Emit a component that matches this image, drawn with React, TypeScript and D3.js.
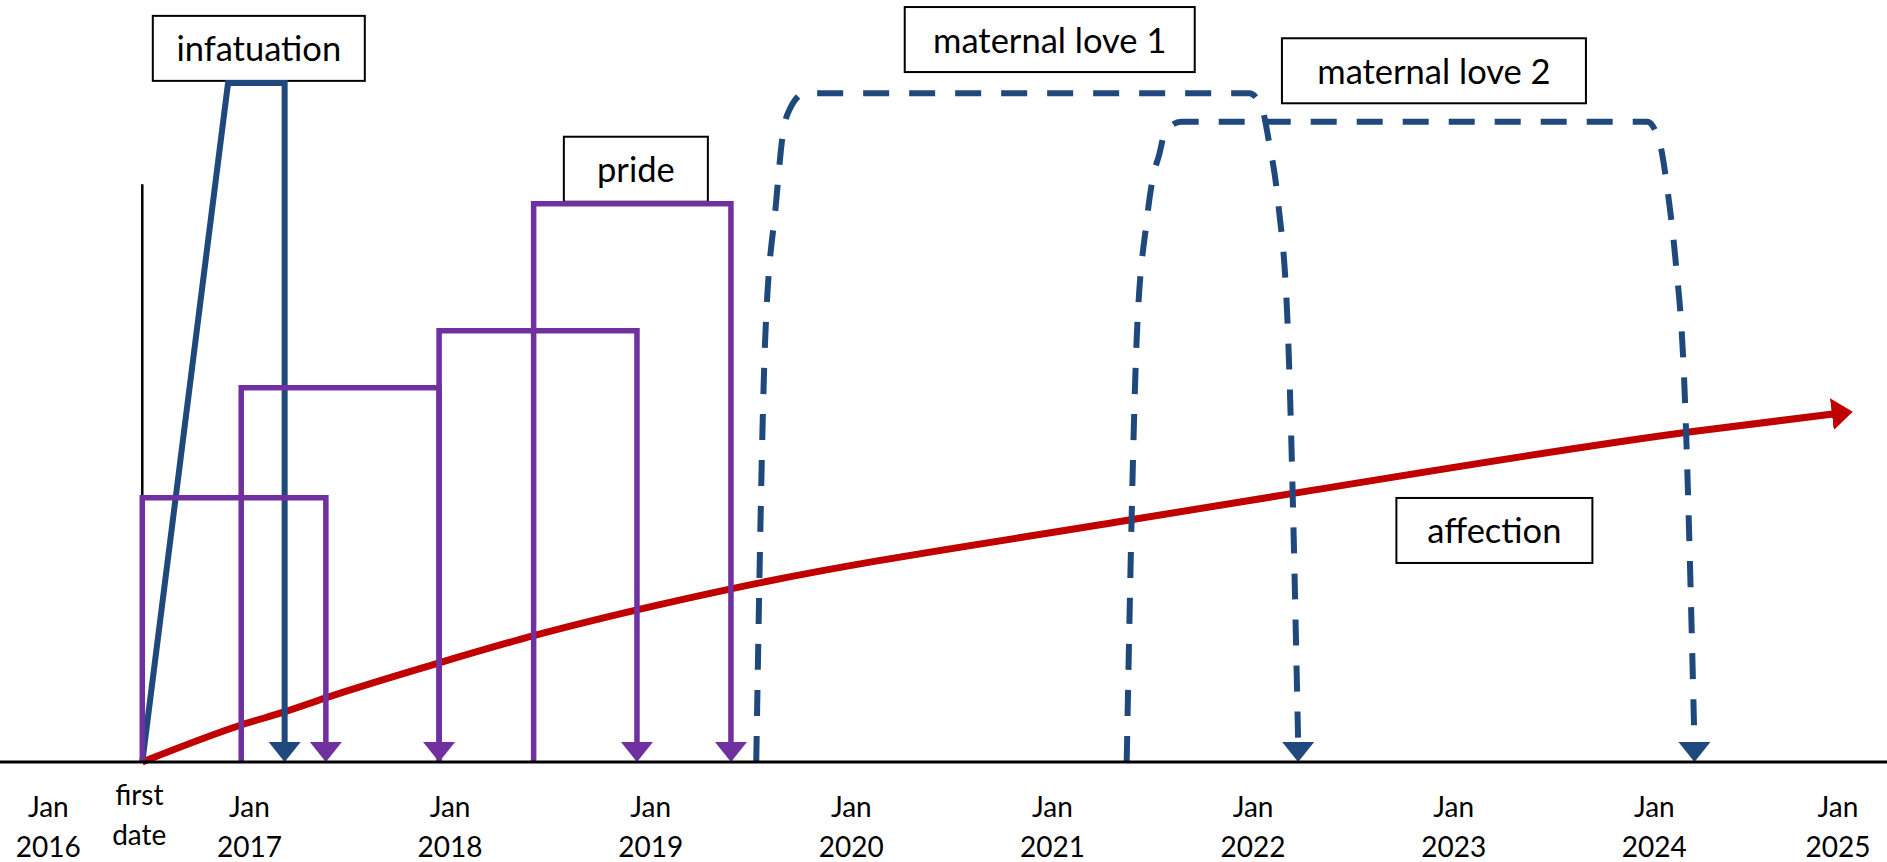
import React, { useRef, useEffect } from 'react';
import * as d3 from 'd3';

const W = 1887;
const H = 862;
const margin = { top: 83, right: 31.5, bottom: 100, left: 48.3 };

// x axis: Jan of every year, plus the first date
const years = [2016, 2017, 2018, 2019, 2020, 2021, 2022, 2023, 2024, 2025];
const firstDate = '2016-06-20';
const firstDateLine = 85.1; // height of the thin black marker at the first date

// levels on a 0-100 scale (infatuation peak = 100)
const infatuation = [
  { date: '2016-06-20', v: 0 },
  { date: '2016-11-23', v: 100 },
  { date: '2017-03-06', v: 100 },
  { date: '2017-03-06', v: 0 },
];

const prideStart = ['2016-06-20', '2016-12-17', '2017-12-12', '2018-06-02'];
const prideEnd = ['2017-05-20', '2017-12-12', '2018-12-07', '2019-05-27'];
const prideLevel = [38.9, 55.1, 63.5, 82.2];

const maternal1 = [
  { date: '2019-07-12', v: 0 },
  { date: '2019-07-28', v: 61.7 },
  { date: '2019-08-17', v: 82.3 },
  { date: '2019-08-30', v: 92.8 },
  { date: '2019-09-10', v: 96.0 },
  { date: '2019-10-09', v: 98.5 },
  { date: '2021-12-25', v: 98.5 },
  { date: '2022-01-17', v: 96.3 },
  { date: '2022-01-30', v: 91.3 },
  { date: '2022-02-15', v: 82.8 },
  { date: '2022-03-06', v: 62.0 },
  { date: '2022-03-24', v: 0 },
];

const maternal2 = [
  { date: '2021-05-16', v: 0 },
  { date: '2021-06-03', v: 61.9 },
  { date: '2021-06-21', v: 79.4 },
  { date: '2021-07-03', v: 86.2 },
  { date: '2021-07-14', v: 89.4 },
  { date: '2021-07-25', v: 92.8 },
  { date: '2021-08-23', v: 94.3 },
  { date: '2023-12-19', v: 94.3 },
  { date: '2024-01-11', v: 91.1 },
  { date: '2024-01-25', v: 84.2 },
  { date: '2024-02-08', v: 74.4 },
  { date: '2024-02-24', v: 56.8 },
  { date: '2024-03-14', v: 0 },
];

const affection = [
  { date: '2016-06-20', v: 0 },
  { date: '2016-12-17', v: 5.45 },
  { date: '2017-03-07', v: 7.41 },
  { date: '2017-05-19', v: 9.43 },
  { date: '2017-12-12', v: 14.6 },
  { date: '2018-06-02', v: 18.6 },
  { date: '2018-12-07', v: 22.4 },
  { date: '2019-05-27', v: 25.5 },
  { date: '2021-05-18', v: 35.6 },
  { date: '2022-03-18', v: 39.6 },
  { date: '2024-03-04', v: 48.6 },
  { date: '2024-12-27', v: 51.6 },
];

const notes = [
  { text: 'infatuation', date: '2017-01-18', v: 105.1, w: 212 },
  { text: 'pride', date: '2018-12-05', v: 87.3, w: 144 },
  { text: 'maternal love 1', date: '2020-12-27', v: 106.4, w: 290 },
  { text: 'maternal love 2', date: '2022-11-26', v: 101.8, w: 304 },
  { text: 'affection', date: '2023-03-16', v: 34.1, w: 196 },
];

const BLUE = '#1F497D';
const PURPLE = '#7030A0';
const RED = '#C00000';
const FONT = 'Lato, "Noto Sans", sans-serif';
const ARROW_W = 32;
const ARROW_H = 20;

function App() {
  const svgRef = useRef(null);

  useEffect(() => {
    const svg = d3.select(svgRef.current);
    svg.selectAll('*').remove();

    const parse = d3.utcParse('%Y-%m-%d');
    const x = d3.scaleUtc()
      .domain([Date.UTC(years[0], 0, 1), Date.UTC(years[years.length - 1], 0, 1)])
      .range([margin.left, W - margin.right]);
    const y = d3.scaleLinear()
      .domain([0, 100])
      .range([H - margin.bottom, margin.top]);
    const y0 = y(0);

    const px = d => x(parse(d));

    const downArrow = (cx, color) => {
      svg.append('path')
        .attr('d', `M${cx - ARROW_W / 2},${y0 - ARROW_H}L${cx + ARROW_W / 2},${y0 - ARROW_H}L${cx},${y0}Z`)
        .attr('fill', color);
    };

    // text boxes
    const box = svg.append('g').attr('font-family', FONT);
    notes.forEach(n => {
      const cx = px(n.date);
      const cy = y(n.v);
      box.append('rect')
        .attr('x', cx - n.w / 2)
        .attr('y', cy - 32.5)
        .attr('width', n.w)
        .attr('height', 65)
        .attr('fill', 'white')
        .attr('stroke', 'black')
        .attr('stroke-width', 2);
      box.append('text')
        .attr('x', cx)
        .attr('y', cy + 13)
        .attr('text-anchor', 'middle')
        .attr('font-size', 34.5)
        .attr('fill', 'black')
        .text(n.text);
    });

    // thin marker at the first date
    svg.append('line')
      .attr('x1', px(firstDate)).attr('x2', px(firstDate))
      .attr('y1', y0).attr('y2', y(firstDateLine))
      .attr('stroke', 'black')
      .attr('stroke-width', 2.5);

    // affection
    svg.append('defs').append('marker')
      .attr('id', 'redHead')
      .attr('markerUnits', 'userSpaceOnUse')
      .attr('viewBox', '0 0 21 32')
      .attr('markerWidth', 21)
      .attr('markerHeight', 32)
      .attr('refX', 21)
      .attr('refY', 16)
      .attr('orient', 'auto')
      .append('path')
      .attr('d', 'M0,0L21,16L0,32Z')
      .attr('fill', RED);

    const smooth = d3.line()
      .x(d => px(d.date))
      .y(d => y(d.v))
      .curve(d3.curveMonotoneX);

    const red = svg.append('path')
      .attr('d', smooth(affection))
      .attr('fill', 'none')
      .attr('stroke', RED)
      .attr('stroke-width', 7)
      .attr('marker-end', 'url(#redHead)');
    const len = red.node().getTotalLength();
    red.attr('stroke-dasharray', `${len - 18} ${len}`);

    // infatuation
    const straight = d3.line()
      .x(d => px(d.date))
      .y((d, i, arr) => (i === arr.length - 1 ? y0 - ARROW_H + 1 : y(d.v)));
    svg.append('path')
      .attr('d', straight(infatuation))
      .attr('fill', 'none')
      .attr('stroke', BLUE)
      .attr('stroke-width', 6);
    downArrow(px(infatuation[infatuation.length - 1].date), BLUE);

    // maternal love (dashed)
    const dashed = d3.line()
      .x(d => px(d.date))
      .y((d, i, arr) => (i === arr.length - 1 ? y0 - ARROW_H + 1 : y(d.v)))
      .curve(d3.curveMonotoneX);
    [maternal1, maternal2].forEach(s => {
      svg.append('path')
        .attr('d', dashed(s))
        .attr('fill', 'none')
        .attr('stroke', BLUE)
        .attr('stroke-width', 6)
        .attr('stroke-dasharray', '26 20');
      downArrow(px(s[s.length - 1].date), BLUE);
    });

    // pride brackets
    prideLevel.forEach((lv, i) => {
      const a = px(prideStart[i]);
      const b = px(prideEnd[i]);
      svg.append('path')
        .attr('d', `M${a},${y0}L${a},${y(lv)}L${b},${y(lv)}L${b},${y0 - ARROW_H + 1}`)
        .attr('fill', 'none')
        .attr('stroke', PURPLE)
        .attr('stroke-width', 5.5);
      downArrow(b, PURPLE);
    });

    // time axis
    svg.append('line')
      .attr('x1', 0).attr('x2', W)
      .attr('y1', y0).attr('y2', y0)
      .attr('stroke', 'black')
      .attr('stroke-width', 3);

    const labels = svg.append('g')
      .attr('font-family', FONT)
      .attr('font-size', 28)
      .attr('text-anchor', 'middle')
      .attr('fill', 'black');
    years.forEach(yr => {
      const cx = Math.min(x(Date.UTC(yr, 0, 1)), W - 49);
      labels.append('text').attr('x', cx).attr('y', y0 + 55).text('Jan');
      labels.append('text').attr('x', cx).attr('y', y0 + 95).text(yr);
    });
    labels.append('text').attr('x', px(firstDate) - 3).attr('y', y0 + 43).text('first');
    labels.append('text').attr('x', px(firstDate) - 3).attr('y', y0 + 83).text('date');
  }, []);

  return (
    <svg
      ref={svgRef}
      width={W}
      height={H}
      style={{ position: 'absolute', left: 0, top: 0, display: 'block', background: 'white' }}
    />
  );
}

export default App;
